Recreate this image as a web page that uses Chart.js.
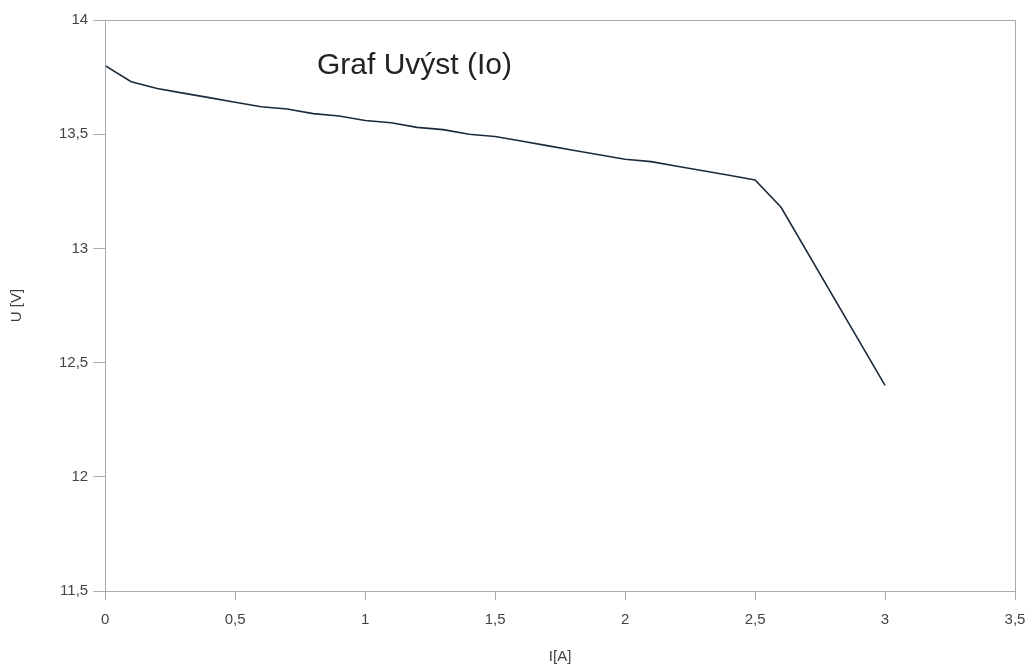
<!DOCTYPE html>
<html>
<head>
<meta charset="utf-8">
<script src="https://cdn.jsdelivr.net/npm/chart.js@4"></script>
<style>
  html, body { margin: 0; padding: 0; background: #fff; }
  #wrap { width: 1028px; height: 668px; }
</style>
</head>
<body>
<div id="wrap"><canvas id="myChart"></canvas></div>
<script>
// measured current I [A] and voltage U [V]
var proud = [0, 0.1, 0.2, 0.3, 0.4, 0.5, 0.6, 0.7, 0.8, 0.9, 1.0, 1.1, 1.2, 1.3, 1.4, 1.5,
             1.6, 1.7, 1.8, 1.9, 2.0, 2.1, 2.2, 2.3, 2.4, 2.5, 2.6, 3.0];
var napeti = [13.80, 13.73, 13.70, 13.68, 13.66, 13.64, 13.62, 13.61, 13.59, 13.58, 13.56, 13.55,
              13.53, 13.52, 13.50, 13.49, 13.47, 13.45, 13.43, 13.41, 13.39, 13.38, 13.36, 13.34,
              13.32, 13.30, 13.18, 12.40];
var nadpis = "Graf Uvýst (Io)";
var popisX = "I[A]";
var popisY = "U [V]";

var body = [];
for (var i = 0; i < proud.length; i++) {
  body.push({x: proud[i], y: napeti[i]});
}

function carka(v) {
  return String(v).replace('.', ',');
}

var pismo = { size: 15, family: '"Liberation Sans", Arial, sans-serif' };

// frame round the plot + title written inside the plot area
var ramecek = {
  id: 'ramecek',
  afterDraw: function(chart) {
    var c = chart.ctx, a = chart.chartArea;
    c.save();
    c.strokeStyle = '#aaaaaa';
    c.lineWidth = 1;
    c.strokeRect(Math.round(a.left) + 0.5, Math.round(a.top) + 0.5,
                 Math.round(a.right - a.left), Math.round(a.bottom - a.top));
    c.fillStyle = '#222222';
    c.font = '30px "Liberation Sans", Arial, sans-serif';
    c.textAlign = 'center';
    c.textBaseline = 'middle';
    c.fillText(nadpis, chart.scales.x.getPixelForValue(1.19), chart.scales.y.getPixelForValue(13.80));
    c.restore();
  }
};

var ctx = document.getElementById("myChart");
var graf = new Chart(ctx, {
  type: 'line',
  data: {
    datasets: [{
      data: body,
      borderColor: '#1c2b3a',
      borderWidth: 1.6,
      pointRadius: 0,
      fill: false,
      tension: 0
    }]
  },
  options: {
    responsive: true,
    maintainAspectRatio: false,
    animation: false,
    layout: { padding: { top: 20, right: 13, left: 2, bottom: 2 } },
    plugins: { legend: { display: false }, tooltip: { enabled: false } },
    scales: {
      x: {
        type: 'linear',
        min: 0, max: 3.5,
        afterFit: function(s) { s.paddingRight = 0; },
        ticks: { stepSize: 0.5, callback: carka, color: '#444', font: pismo, padding: 11 },
        grid: { drawOnChartArea: false, color: '#aaaaaa', tickLength: 9 },
        border: { color: '#aaaaaa' },
        title: { display: true, text: popisX, color: '#444', font: pismo, padding: { top: 8, bottom: 0 } }
      },
      y: {
        min: 11.5, max: 14,
        ticks: { stepSize: 0.5, callback: carka, color: '#444', font: pismo, padding: 5 },
        grid: { drawOnChartArea: false, color: '#aaaaaa', tickLength: 12 },
        border: { color: '#aaaaaa' },
        title: { display: true, text: popisY, color: '#444', font: pismo, padding: { top: 6, bottom: 28 } }
      }
    }
  },
  plugins: [ramecek]
});
</script>
</body>
</html>
